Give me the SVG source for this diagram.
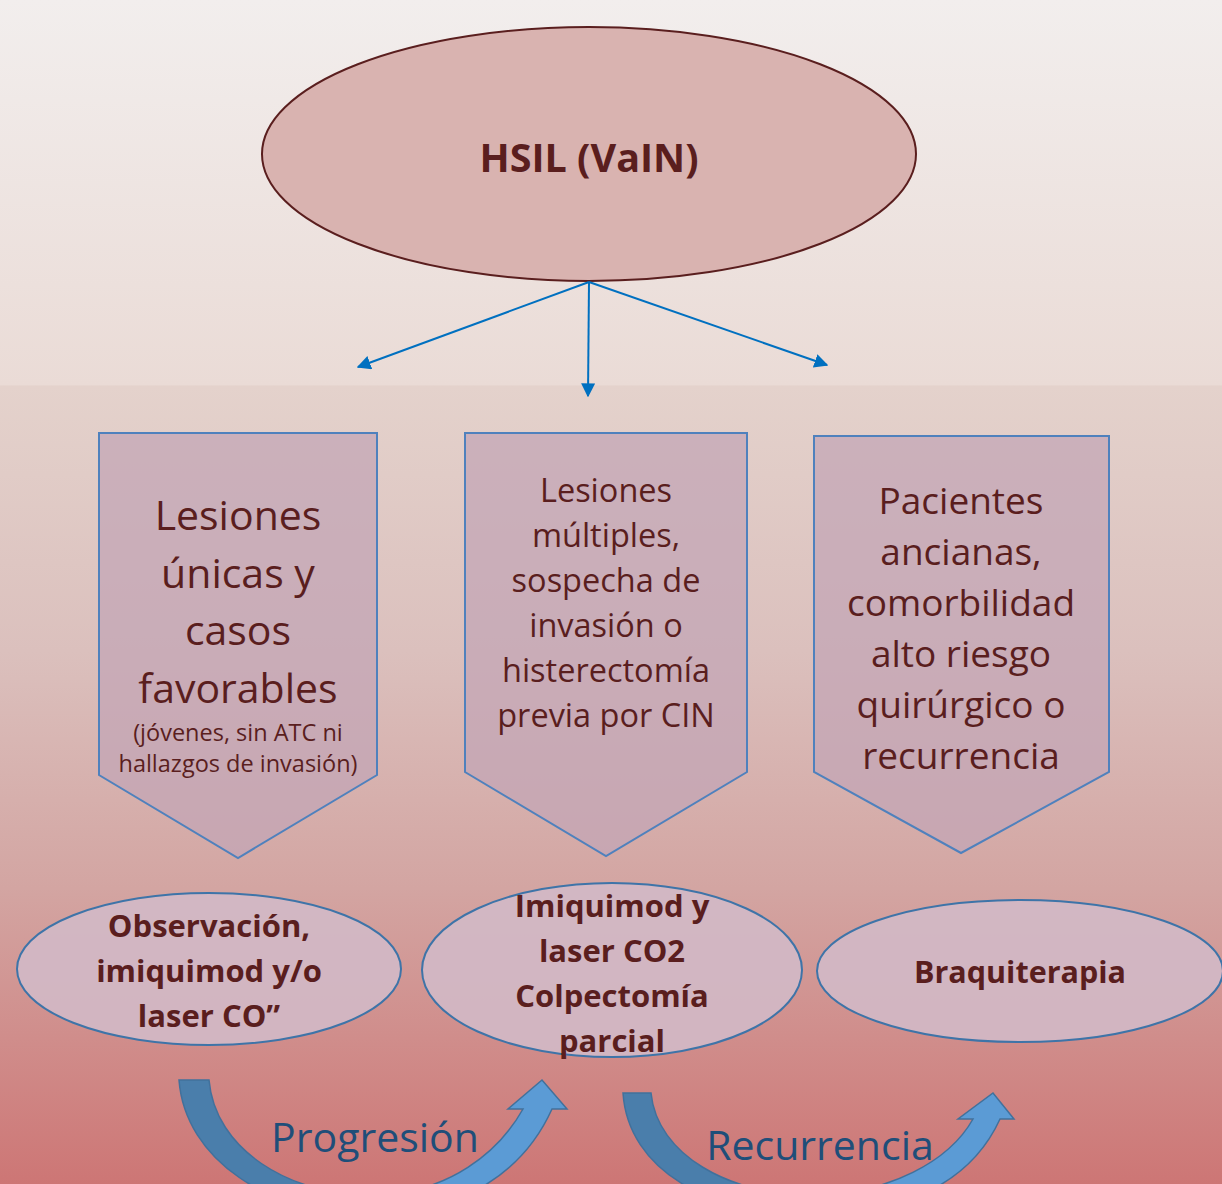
<svg xmlns="http://www.w3.org/2000/svg" width="1222" height="1184" viewBox="0 0 1222 1184">
<defs>
<linearGradient id="bg" x1="0" y1="0" x2="0" y2="1">
<stop offset="0" stop-color="#f2eeed"/>
<stop offset="0.325" stop-color="#eadbd6"/>
<stop offset="0.326" stop-color="#e4d2cc"/>
<stop offset="0.55" stop-color="#dbc0bd"/>
<stop offset="0.75" stop-color="#d3a5a2"/>
<stop offset="1" stop-color="#cd7675"/>
</linearGradient>
<linearGradient id="arr1" x1="179" y1="0" x2="567" y2="0" gradientUnits="userSpaceOnUse">
<stop offset="0.5" stop-color="#4a7eab"/>
<stop offset="0.5" stop-color="#5b9bd5"/>
</linearGradient>
<linearGradient id="arr2" x1="622" y1="0" x2="1014" y2="0" gradientUnits="userSpaceOnUse">
<stop offset="0.5" stop-color="#4a7eab"/>
<stop offset="0.5" stop-color="#5b9bd5"/>
</linearGradient>
<marker id="ah" viewBox="0 0 10 10" refX="9" refY="5" markerWidth="7" markerHeight="7" orient="auto" markerUnits="strokeWidth">
<path d="M0,0 L10,5 L0,10 Z" fill="#0070c0"/>
</marker>
<style>
.t{font-family:"Open Sans",Lato,"Liberation Sans",sans-serif;fill:#5a1e1e;text-anchor:middle}
.b{font-weight:bold}
.pent{fill:#c3a6b6;fill-opacity:0.75;stroke:#4f81bd;stroke-width:2}
.ell{fill:#d2b9c6;fill-opacity:0.9;stroke:#3e74a8;stroke-width:2}
.con{stroke:#0070c0;stroke-width:2;fill:none;marker-end:url(#ah)}
.lbl{font-family:"Open Sans",Lato,"Liberation Sans",sans-serif;fill:#1f4e79;text-anchor:middle;font-size:41px}
</style>
</defs>
<rect width="1222" height="1184" fill="url(#bg)"/>

<g id="hsil">
<ellipse cx="589" cy="154" rx="327" ry="127" fill="#d9b3b0" stroke="#5a1e1e" stroke-width="2"/>
<text class="t b" x="589" y="172" font-size="39.5">HSIL (VaIN)</text>
</g>

<g id="connectors">
<line class="con" x1="589" y1="282" x2="358" y2="367"/>
<line class="con" x1="589" y1="282" x2="588" y2="396"/>
<line class="con" x1="589" y1="282" x2="827" y2="365"/>
</g>

<g id="p1">
<polygon class="pent" points="99,433 377,433 377,775 238,858 99,775"/>
<text class="t" font-size="41"><tspan x="238" y="530">Lesiones</tspan><tspan x="238" y="588">únicas y</tspan><tspan x="238" y="645">casos</tspan><tspan x="238" y="703">favorables</tspan></text>
<text class="t" font-size="23.5"><tspan x="238" y="741">(jóvenes, sin ATC ni</tspan><tspan x="238" y="772">hallazgos de invasión)</tspan></text>
</g>

<g id="p2">
<polygon class="pent" points="465,433 747,433 747,772 606,856 465,772"/>
<text class="t" font-size="32.5"><tspan x="606" y="502">Lesiones</tspan><tspan x="606" y="547">múltiples,</tspan><tspan x="606" y="592">sospecha de</tspan><tspan x="606" y="637">invasión o</tspan><tspan x="606" y="682">histerectomía</tspan><tspan x="606" y="727">previa por CIN</tspan></text>
</g>

<g id="p3">
<polygon class="pent" points="814,436 1109,436 1109,772 961,853 814,772"/>
<text class="t" font-size="37"><tspan x="961" y="514">Pacientes</tspan><tspan x="961" y="565">ancianas,</tspan><tspan x="961" y="616">comorbilidad</tspan><tspan x="961" y="667">alto riesgo</tspan><tspan x="961" y="718">quirúrgico o</tspan><tspan x="961" y="769">recurrencia</tspan></text>
</g>

<g id="e1">
<ellipse class="ell" cx="209" cy="969" rx="192" ry="76"/>
<text class="t b" font-size="31"><tspan x="209" y="937">Observación,</tspan><tspan x="209" y="982">imiquimod y/o</tspan><tspan x="209" y="1027">laser CO”</tspan></text>
</g>

<g id="e2">
<ellipse class="ell" cx="612" cy="970" rx="190" ry="87"/>
<text class="t b" font-size="31"><tspan x="612" y="917">Imiquimod y</tspan><tspan x="612" y="962">laser CO2</tspan><tspan x="612" y="1007">Colpectomía</tspan><tspan x="612" y="1052">parcial</tspan></text>
</g>

<g id="e3">
<ellipse class="ell" cx="1020" cy="971" rx="203" ry="71"/>
<text class="t b" font-size="30.5" x="1020" y="983">Braquiterapia</text>
</g>

<g id="progresion">
<path d="M179,1080 L209,1080 C215,1150 290,1195 370,1195 C450,1195 500,1150 523,1109 L508,1109 L542,1080 L567,1109 L552,1109 C520,1180 450,1215 370,1215 C270,1215 185,1160 179,1080 Z" fill="url(#arr1)" stroke="#41719c" stroke-width="1.5"/>
<text class="lbl" x="375" y="1152">Progresión</text>
</g>

<g id="recurrencia">
<path d="M623,1093 L651,1093 C657,1155 730,1195 810,1195 C890,1195 950,1160 973,1119 L958,1119 L993,1093 L1014,1119 L1000,1119 C970,1185 900,1215 810,1215 C710,1215 628,1170 623,1093 Z" fill="url(#arr2)" stroke="#41719c" stroke-width="1.5"/>
<text class="lbl" x="820" y="1160">Recurrencia</text>
</g>
</svg>
